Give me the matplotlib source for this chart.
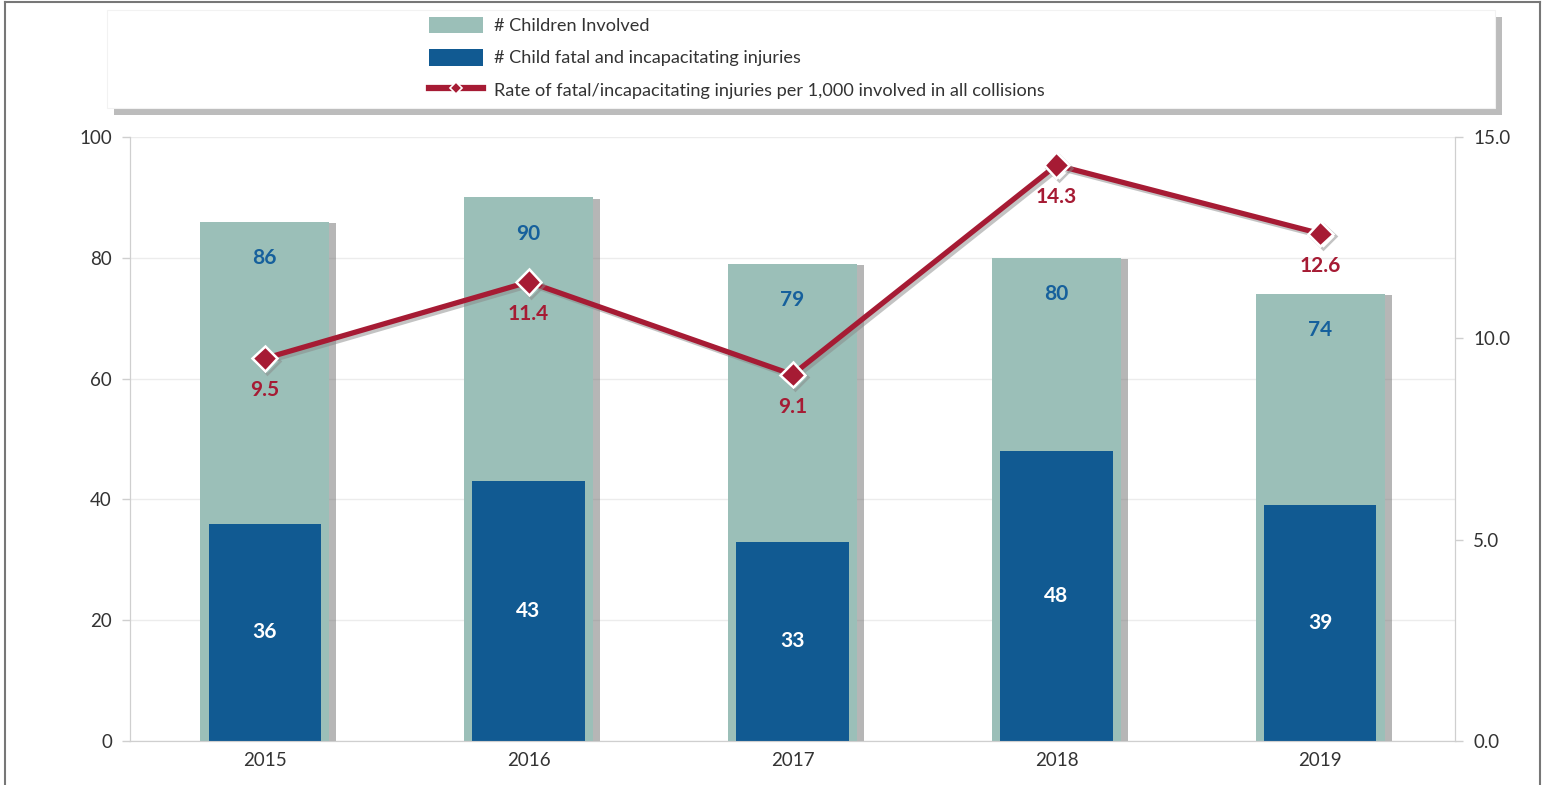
import numpy as np
import matplotlib
matplotlib.use("Agg")
import matplotlib.pyplot as plt
import matplotlib.patheffects as pe
from matplotlib.patches import Patch, FancyBboxPatch
from matplotlib.lines import Line2D

# data
years = ["2015", "2016", "2017", "2018", "2019"]
children_involved = [86, 90, 79, 80, 74]
fatal_injuries = [36, 43, 33, 48, 39]
rate_per_1000 = [9.5, 11.4, 9.1, 14.3, 12.6]

TEAL = "#9bbfb8"
BLUE = "#115a92"
BLUE_TXT = "#16609c"
RED = "#a61b34"
GRID = "#ececec"
SPINE = "#cfcfcf"
TXT = "#333333"

plt.rcParams["font.family"] = ["Lato", "DejaVu Sans"]

fig = plt.figure(figsize=(15.46, 7.85), dpi=100)
ax = fig.add_axes([130 / 1546, 1 - 741 / 785, (1455 - 130) / 1546, (741 - 137) / 785])
ax2 = ax.twinx()

x = np.arange(len(years))

# outer (teal) bars with a soft shadow to the right
bars_outer = ax.bar(x, children_involved, width=0.49, color=TEAL, zorder=2)
for b in bars_outer:
    b.set_path_effects([pe.SimplePatchShadow(offset=(5, -1), shadow_rgbFace="#6f6f6f", alpha=0.5),
                        pe.Normal()])
bars_inner = ax.bar(x, fatal_injuries, width=0.425, color=BLUE, zorder=3)

for xi, v in zip(x, children_involved):
    ax.annotate(str(v), (xi, v), xytext=(0, -26), textcoords="offset points",
                ha="center", va="center", fontsize=15, fontweight="bold", color=BLUE_TXT, zorder=5)
for xi, v in zip(x, fatal_injuries):
    ax.text(xi, v / 2, str(v), ha="center", va="center", fontsize=15,
            fontweight="bold", color="white", zorder=5)

ax.set_ylim(0, 100)
ax.set_xlim(-0.51, 4.51)
ax.set_yticks([0, 20, 40, 60, 80, 100])
ax.set_xticks(x)
ax.set_xticklabels(years)
ax.grid(axis="y", color=GRID, linewidth=1, zorder=0)
ax.set_axisbelow(True)

# rate line on the right axis
ax2.plot(x, rate_per_1000, color=RED, linewidth=3.8, marker="D", markersize=13,
         markerfacecolor=RED, markeredgecolor="white", markeredgewidth=1.8, zorder=4,
         path_effects=[pe.SimpleLineShadow(offset=(2, -2), shadow_color="#888888", alpha=0.5),
                       pe.Normal()])
for xi, v in zip(x, rate_per_1000):
    ax2.annotate(f"{v:.1f}", (xi, v), xytext=(0, -23), textcoords="offset points",
                 ha="center", va="center", fontsize=15, fontweight="bold", color=RED)
ax2.set_ylim(0, 15)
ax2.set_yticks([0, 5, 10, 15])
ax2.set_yticklabels(["0.0", "5.0", "10.0", "15.0"])

for a in (ax, ax2):
    for s in a.spines.values():
        s.set_color(SPINE)
    a.spines["top"].set_visible(False)
    a.tick_params(colors=SPINE, labelcolor=TXT, labelsize=13.5, length=6, width=1, pad=7)
ax.tick_params(axis="x", length=0, pad=8)

# legend box with drop shadow
box = FancyBboxPatch((107 / 1546, 1 - 108 / 785), (1495 - 107) / 1546, 98 / 785,
                     boxstyle="square,pad=0", transform=fig.transFigure,
                     facecolor="white", edgecolor="#f2f2f2", linewidth=0.8,
                     path_effects=[pe.SimplePatchShadow(offset=(5, -5), shadow_rgbFace="#7a7a7a", alpha=0.5),
                                   pe.Normal()])
fig.patches.append(box)

handles = [Patch(facecolor=TEAL, edgecolor="none"),
           Patch(facecolor=BLUE, edgecolor="none"),
           Line2D([], [], color=RED, linewidth=4.5, marker="D", markersize=6,
                  markerfacecolor=RED, markeredgecolor="white", markeredgewidth=1.2)]
labels = ["# Children Involved", "# Child fatal and incapacitating injuries",
          "Rate of fatal/incapacitating injuries per 1,000 involved in all collisions"]
leg = fig.legend(handles, labels, loc="upper left", bbox_to_anchor=(414 / 1546, 1 - 2 / 785),
                 frameon=False, handlelength=3.0, handleheight=1.05, handletextpad=0.6,
                 labelspacing=0.8, borderpad=0.3,
                 prop={"family": ["Lato", "DejaVu Sans"], "size": 13.1})
for t in leg.get_texts():
    t.set_color(TXT)

# outer frame of the original graphic
fig.add_artist(Line2D([5 / 1546, 5 / 1546], [0, 1 - 2 / 785], transform=fig.transFigure,
                      color="#777777", linewidth=1.5))
fig.add_artist(Line2D([5 / 1546, 1540 / 1546], [1 - 2 / 785, 1 - 2 / 785], transform=fig.transFigure,
                      color="#777777", linewidth=1.5))
fig.add_artist(Line2D([1540 / 1546, 1540 / 1546], [0, 1 - 2 / 785], transform=fig.transFigure,
                      color="#777777", linewidth=1.5))

fig.savefig("out.png", dpi=100)
